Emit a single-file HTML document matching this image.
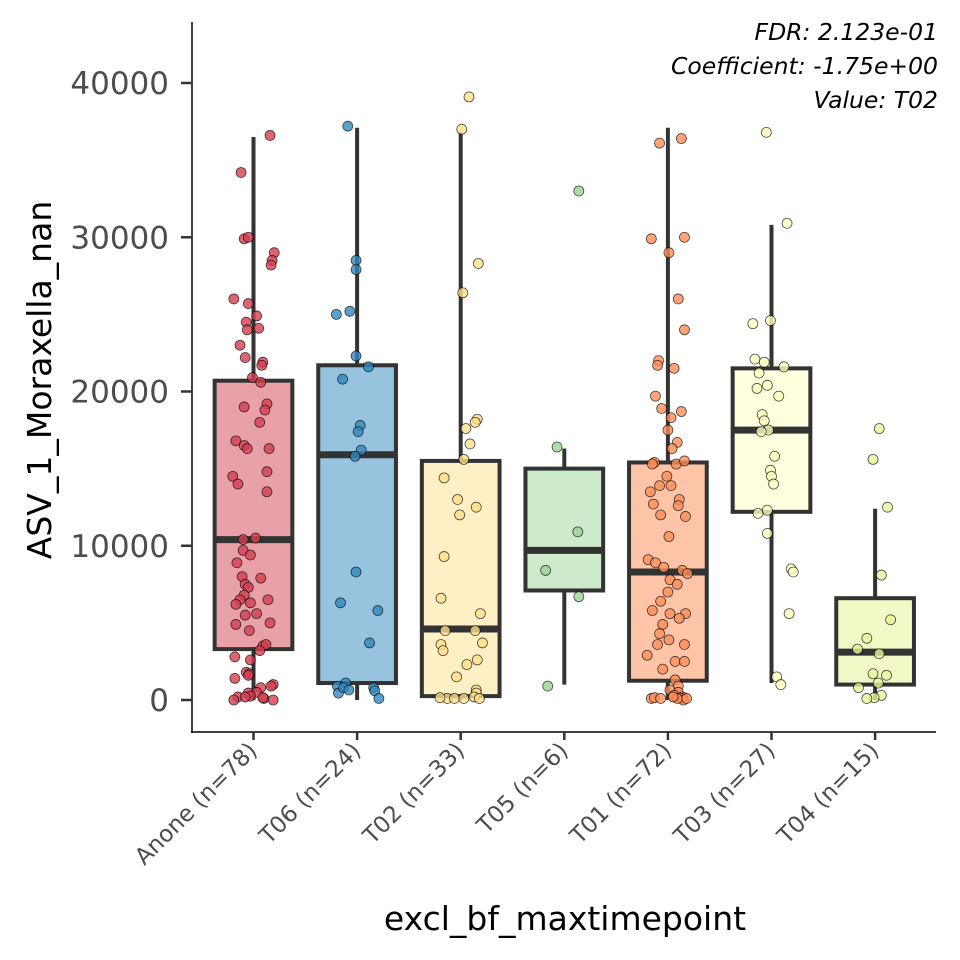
<!DOCTYPE html>
<html><head><meta charset="utf-8"><style>
html,body{margin:0;padding:0;background:#fff}
svg{display:block;font-family:"DejaVu Sans","Liberation Sans",sans-serif}
</style></head><body>
<svg id="chart" width="960" height="960" viewBox="0 0 960 960" xmlns="http://www.w3.org/2000/svg">
<rect width="960" height="960" fill="#fff"/>
<g id="boxes"></g>
<g id="points"></g>
<g id="axes">
<line x1="192" y1="22" x2="192" y2="733" stroke="#000" stroke-width="1.5"/>
<line x1="191" y1="732" x2="936" y2="732" stroke="#000" stroke-width="1.5"/>
</g>
<text transform="translate(51,380) rotate(-90)" text-anchor="middle" font-size="33" fill="#000">ASV_1_Moraxella_nan</text>
<text x="565" y="930" text-anchor="middle" font-size="33" fill="#000">excl_bf_maxtimepoint</text>
<g font-size="23.5" font-style="italic" text-anchor="end" fill="#000">
<text x="938" y="40">FDR: 2.123e-01</text>
<text x="938" y="74">Coefficient: -1.75e+00</text>
<text x="938" y="108">Value: T02</text>
</g>
</svg>
<script>
const categories = ["Anone (n=78)","T06 (n=24)","T02 (n=33)","T05 (n=6)","T01 (n=72)","T03 (n=27)","T04 (n=15)"];
const whiskerLow = [0,0,0,1000,0,1100,0];
const q1 = [3300,1100,250,7100,1250,12200,1000];
const medians = [10400,15900,4600,9700,8300,17500,3100];
const q3 = [20700,21700,15500,15000,15400,21500,6600];
const whiskerHigh = [36500,37100,36800,16300,37100,30800,12400];
const boxFills = ["#e8a0a9","#98c3df","#feefc4","#cdeacb","#fdc4a7","#ffffe0","#f2f9c6"];
const pointFills = ["#d53e4f","#3288bd","#fee08b","#99d594","#fc8d59","#ffffbf","#e6f598"];
const yTicks = [0,10000,20000,30000,40000];
const yTickLabels = ["0","10000","20000","30000","40000"];
// jittered points: [jitter (category units), value]
const pts0 = [[.16,36600],[-.12,34200],[-.09,29900],[-.05,30000],[.2,29000],[.18,28500],[.17,28200],[-.19,26000],[-.05,25700],[.03,24900],[-.07,24500],[.05,24100],[-.06,24000],[-.13,23000],[-.08,22200],[.09,21900],[.08,21700],[-.01,20900],[.07,20600],[-.09,19000],[.13,19200],[.11,18800],[.06,18000],[-.17,16800],[-.09,16500],[-.06,16300],[.15,16300],[.13,14800],[-.2,14500],[-.15,14000],[.13,13500],[-.1,10400],[.02,10500],[-.1,9700],[-.03,9400],[-.16,8900],[-.11,8000],[.07,7900],[-.08,7500],[-.05,7300],[-.09,6800],[-.13,6500],[-.03,6300],[-.17,6200],[.14,6500],[-.08,5500],[.03,5600],[.16,5000],[-.17,4900],[-.04,4500],[.09,3500],[.12,3600],[.06,3200],[-.18,2800],[-.03,2600],[-.07,1800],[-.04,1700],[-.05,1600],[-.18,1400],[.19,1000],[.17,900],[.07,800],[-.05,450],[.03,500],[-.15,200],[-.03,250],[.1,100],[-.08,200],[-.19,0],[.19,0],[.09,150]];
const pts1 = [[-.09,37200],[-.01,28500],[-.01,27900],[-.07,25200],[-.2,25000],[-.01,22300],[.11,21600],[-.14,20800],[.03,17800],[.01,17400],[.04,16200],[-.02,15800],[-.01,8300],[-.16,6300],[.2,5800],[.12,3700],[-.11,1100],[-.19,900],[-.18,450],[.16,800],[.17,600],[.21,100],[-.13,800],[-.08,650]];
const pts2 = [[.08,39100],[.01,37000],[.17,28300],[.02,26400],[.16,18200],[.14,18000],[.05,17600],[.09,16600],[.03,15600],[-.16,14400],[-.03,13000],[-.01,12000],[.15,12500],[-.16,9300],[-.19,6600],[.19,5600],[-.15,4500],[.14,4500],[-.19,3600],[.21,3700],[-.17,3200],[.06,2300],[.16,2600],[-.04,1500],[.15,650],[.15,450],[.13,200],[-.13,100],[-.06,100],[.03,100],[.18,100],[-.2,150]];
const pts3 = [[.14,33000],[-.07,16400],[.13,10900],[-.18,8400],[.14,6700],[-.16,900]];
const pts4 = [[.13,36400],[-.08,36100],[.16,30000],[-.16,29900],[.01,29000],[.1,26000],[.16,24000],[-.09,22000],[-.1,21700],[.06,21500],[-.12,19700],[.13,18700],[-.06,18900],[.03,18300],[0,17500],[.09,16700],[.04,16300],[-.13,15400],[-.15,15300],[.08,15300],[.16,15500],[-.01,14500],[-.08,13900],[-.17,13500],[.03,13900],[.11,13000],[.1,12600],[-.14,12700],[-.07,12000],[.17,11900],[.01,10600],[-.19,9100],[-.12,8900],[-.04,8600],[.14,8400],[.19,8200],[.02,7800],[.09,7500],[0,7000],[-.07,6400],[-.15,5800],[.17,5600],[.11,5300],[.02,5600],[-.05,4900],[-.08,4300],[-.1,3600],[.16,3600],[.01,3900],[-.2,2900],[.07,2500],[-.05,2000],[.16,2500],[.07,1300],[.1,900],[.02,650],[.1,500],[.06,300],[.14,200],[-.16,100],[-.13,150],[-.07,100],[.13,100],[.15,0],[.18,100],[.09,100],[.05,200]];
const pts5 = [[-.05,36800],[.15,30900],[-.18,24400],[-.01,24600],[-.16,22100],[-.07,21900],[.12,21600],[-.12,21200],[-.04,20400],[-.14,20200],[.07,19700],[-.09,18500],[-.07,18100],[-.03,17500],[-.1,17400],[.03,15800],[-.01,14900],[0,14500],[.02,14000],[-.13,12100],[-.04,12300],[-.04,10800],[.19,8500],[.21,8300],[.17,5600],[.05,1500],[.09,1000]];
const pts6 = [[.04,17600],[-.02,15600],[.12,12500],[.06,8100],[.15,5200],[-.08,4000],[-.17,3300],[.04,3000],[.11,1600],[-.02,1700],[.03,1100],[-.16,800],[.06,300],[-.01,150],[-.08,100]];
const allPoints = [pts0,pts1,pts2,pts3,pts4,pts5,pts6];

const NS="http://www.w3.org/2000/svg";
const y0px=700, pxPer=154.25/10000;
const band=103.6, firstX=253.5;
function xScale(i){return firstX+band*i;}
function yScale(v){return y0px - v*pxPer;}
function mk(tag,attrs,parent){const e=document.createElementNS(NS,tag);for(const k in attrs)e.setAttribute(k,attrs[k]);parent.appendChild(e);return e;}
const gB=document.getElementById('boxes'), gP=document.getElementById('points'), gA=document.getElementById('axes');
const bw=band*0.75;
categories.forEach((c,i)=>{
  const cx=xScale(i);
  const g=mk('g',{},gB);
  
  
  const w1=mk('line',{x1:cx,x2:cx,y1:yScale(whiskerHigh[i]),y2:yScale(q3[i]),stroke:'#333','stroke-width':4},g);
  
  
  const w2=mk('line',{x1:cx,x2:cx,y1:yScale(q1[i]),y2:yScale(whiskerLow[i]),stroke:'#333','stroke-width':4},g);
  
  
  const r=mk('rect',{x:cx-bw/2,y:yScale(q3[i]),width:bw,height:yScale(q1[i])-yScale(q3[i]),fill:boxFills[i],stroke:'#333','stroke-width':4},g);
  
  
  const m=mk('line',{x1:cx-bw/2,x2:cx+bw/2,y1:yScale(medians[i]),y2:yScale(medians[i]),stroke:'#333','stroke-width':7},g);
  
  
  allPoints[i].forEach(p=>{
    const ci=mk('circle',{cx:cx+p[0]*band,cy:yScale(p[1]),r:5,fill:pointFills[i],'fill-opacity':0.8,stroke:'#000','stroke-opacity':0.7,'stroke-width':0.8},gP);
    
    
  });
  const t=mk('line',{x1:cx,x2:cx,y1:732,y2:740,stroke:'#333','stroke-width':2.5},gA);
  
  
  const lb=mk('text',{transform:`translate(${cx+5},${752}) rotate(-45)`,'text-anchor':'end','font-size':23,fill:'#4d4d4d'},gA);
  lb.textContent=c;
  
  
});
yTicks.forEach((v,i)=>{
  const y=yScale(v);
  const t=mk('line',{x1:181,x2:192,y1:y,y2:y,stroke:'#333','stroke-width':2.5},gA);
  
  
  const lb=mk('text',{x:169,y:y+11,'text-anchor':'end','font-size':31,fill:'#4d4d4d'},gA);
  lb.textContent=yTickLabels[i];
  
  
});
</script>
</body></html>
